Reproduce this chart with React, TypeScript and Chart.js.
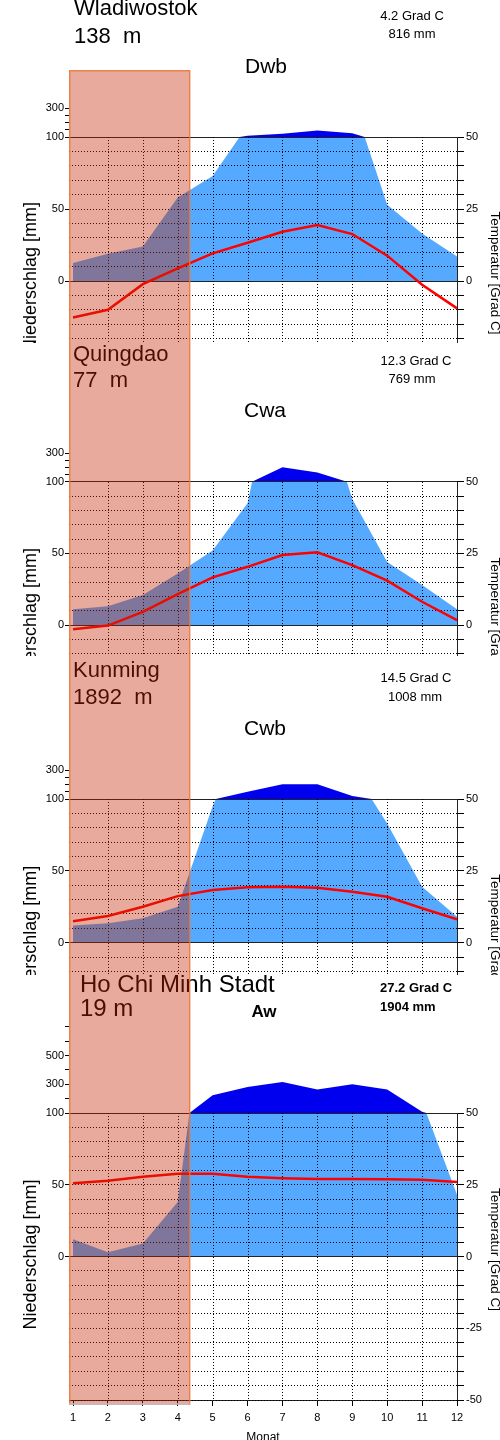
import React, { useEffect, useRef } from "react";
import { Chart, registerables } from "chart.js";

const FONT = '"Liberation Sans", Arial, Helvetica, sans-serif';

// ---------- data ----------
const MONTHS = [1, 2, 3, 4, 5, 6, 7, 8, 9, 10, 11, 12];

const WLAD_PRECIP = [12.5, 19, 24, 58, 73, 108, 123, 146, 126, 53, 33, 17];
const WLAD_TEMP = [-12.7, -10, -1.1, 4.4, 9.6, 13.3, 17.1, 19.4, 16.3, 8.8, -1.3, -9.5];

const QING_PRECIP = [11, 13, 21, 36, 52, 85, 200, 165, 88, 44, 28, 11];
const QING_TEMP = [-1.5, -0.2, 4.6, 10.8, 16.6, 20.3, 24.4, 25.4, 20.9, 15.5, 8.1, 1.7];

const KUN_PRECIP = [12, 13.5, 17, 25, 95, 151, 202, 202, 121, 83, 39, 18];
const KUN_TEMP = [7.5, 9.3, 12.5, 16.2, 18.3, 19.3, 19.5, 19.1, 17.7, 16, 12, 8.1];

const HCMC_PRECIP = [12, 3, 9, 38, 223, 281, 316, 263, 300, 263, 108, 43];
const HCMC_TEMP = [25.5, 26.4, 27.8, 28.8, 28.8, 27.8, 27.3, 27.0, 27.0, 26.9, 26.7, 26.0];

const PRECIP_BASE_TICKS = [0, 50, 100];
const PRECIP_HIGH_TICKS_SMALL = [150, 200, 250, 300];
const PRECIP_HIGH_TICKS_LARGE = [200, 300, 400, 500, 600, 700];
const PRECIP_LABELS_SMALL = [0, 50, 100, 300];
const PRECIP_LABELS_LARGE = [0, 50, 100, 300, 500];
const TEMP_TICKS = [-50, -45, -40, -35, -30, -25, -20, -15, -10, -5, 0, 5, 10, 15, 20, 25, 30, 35, 40, 45, 50];
const TEMP_LABELS = [-50, -25, 0, 25, 50];
const GRID_MONTHS = [2, 3, 4, 5, 6, 7, 8, 9, 10, 11];
const HIGHLIGHT_MONTHS = [0.885, 4.35];
const X_MIN = 0.885;
const PRECIP_BREAK = 100;
const PRECIP_COMPRESS = 10;

const toDisplay = (mm: number) => (mm <= PRECIP_BREAK ? mm : PRECIP_BREAK + (mm - PRECIP_BREAK) / PRECIP_COMPRESS);
const toMm = (v: number) => (v <= PRECIP_BREAK ? v : PRECIP_BREAK + (v - PRECIP_BREAK) * PRECIP_COMPRESS);

// ---------- layout ----------
type TextItem = { text: string; x: number; y: number; size: number; align?: CanvasTextAlign; weight?: string };
type Panel = {
  precip: number[];
  temp: number[];
  highTicks: number[];
  labeled: number[];
  areaTop: number;
  areaBottom: number;
  wrapperBottom: number;
  zeroY: number;
  hundredY: number;
  showX: boolean;
  highlightTop?: number;
  highlightBottom?: number;
  leftTitleShift: number;
  rightTitleShift: number;
  texts: TextItem[];
};

const PANELS: Panel[] = [
  {
    precip: WLAD_PRECIP, temp: WLAD_TEMP, highTicks: PRECIP_HIGH_TICKS_SMALL, labeled: PRECIP_LABELS_SMALL,
    areaTop: 0, areaBottom: 343, wrapperBottom: 343, zeroY: 281, hundredY: 137, showX: false,
    highlightTop: 146.5, leftTitleShift: -4, rightTitleShift: -8,
    texts: [
      { text: "Wladiwostok", x: 74, y: 15, size: 22 },
      { text: "138  m", x: 74, y: 43, size: 22 },
      { text: "4.2 Grad C", x: 412, y: 20, size: 13, align: "center" },
      { text: "816 mm", x: 412, y: 38, size: 13, align: "center" },
      { text: "Dwb", x: 266, y: 73, size: 21, align: "center" },
    ],
  },
  {
    precip: QING_PRECIP, temp: QING_TEMP, highTicks: PRECIP_HIGH_TICKS_SMALL, labeled: PRECIP_LABELS_SMALL,
    areaTop: 343, areaBottom: 656, wrapperBottom: 656, zeroY: 625, hundredY: 481.7, showX: false,
    leftTitleShift: -2, rightTitleShift: -6,
    texts: [
      { text: "Quingdao", x: 73, y: 361, size: 22 },
      { text: "77  m", x: 73, y: 387, size: 22 },
      { text: "12.3 Grad C", x: 416, y: 365, size: 13, align: "center" },
      { text: "769 mm", x: 412, y: 383, size: 13, align: "center" },
      { text: "Cwa", x: 265, y: 417, size: 21, align: "center" },
    ],
  },
  {
    precip: KUN_PRECIP, temp: KUN_TEMP, highTicks: PRECIP_HIGH_TICKS_SMALL, labeled: PRECIP_LABELS_SMALL,
    areaTop: 656, areaBottom: 975, wrapperBottom: 975, zeroY: 942.7, hundredY: 799, showX: false,
    leftTitleShift: -2, rightTitleShift: -7,
    texts: [
      { text: "Kunming", x: 73, y: 677, size: 22 },
      { text: "1892  m", x: 73, y: 704, size: 22 },
      { text: "14.5 Grad C", x: 416, y: 682, size: 13, align: "center" },
      { text: "1008 mm", x: 415, y: 701, size: 13, align: "center" },
      { text: "Cwb", x: 265, y: 735, size: 21, align: "center" },
    ],
  },
  {
    precip: HCMC_PRECIP, temp: HCMC_TEMP, highTicks: PRECIP_HIGH_TICKS_LARGE, labeled: PRECIP_LABELS_LARGE,
    areaTop: 975, areaBottom: 1400, wrapperBottom: 1440, zeroY: 1256.5, hundredY: 1113, showX: true,
    highlightBottom: -103.5, leftTitleShift: -2, rightTitleShift: -7,
    texts: [
      { text: "Ho Chi Minh Stadt", x: 80, y: 992, size: 24 },
      { text: "19 m", x: 80, y: 1016, size: 24 },
      { text: "27.2 Grad C", x: 380, y: 992, size: 13, weight: "bold" },
      { text: "1904 mm", x: 380, y: 1011, size: 13, weight: "bold" },
      { text: "Aw", x: 264, y: 1017, size: 17, align: "center", weight: "bold" },
    ],
  },
];

// ---------- plugins ----------
const clipBandPlugin = {
  id: "clipBand",
  beforeDatasetDraw(chart: any, args: any) {
    const ds = chart.data.datasets[args.index];
    if (!ds || !ds.clipBand) return;
    const { ctx, chartArea } = chart;
    const y100 = chart.scales.y.getPixelForValue(PRECIP_BREAK);
    ctx.save();
    ctx.beginPath();
    if (ds.clipBand === "below") {
      ctx.rect(chartArea.left, y100, chartArea.right - chartArea.left, chartArea.bottom - y100);
    } else {
      ctx.rect(chartArea.left, chartArea.top, chartArea.right - chartArea.left, y100 - chartArea.top);
    }
    ctx.clip();
  },
  afterDatasetDraw(chart: any, args: any) {
    const ds = chart.data.datasets[args.index];
    if (ds && ds.clipBand) chart.ctx.restore();
  },
};

Chart.register(clipBandPlugin as any);
Chart.register(...registerables);

function makeDecorPlugin(p: Panel) {
  const offsetY = 20 - p.areaTop;
  return {
    id: "decor",
    afterDatasetDraw(chart: any, args: any) {
      if (args.index !== 1) return;
      const area = chart.chartArea;
      chart.scales.y2.drawGrid(area);
      chart.scales.y.drawGrid(area);
      const ctx = chart.ctx;
      const xs = chart.scales.x;
      const yTop = Math.round(chart.scales.y.getPixelForValue(PRECIP_BREAK));
      const yBot = area.bottom;
      ctx.save();
      ctx.lineWidth = 1;
      ctx.strokeStyle = "#000";
      ctx.setLineDash([1, 2]);
      for (const m of GRID_MONTHS) {
        const px = Math.round(xs.getPixelForValue(m)) + 0.5;
        ctx.beginPath();
        ctx.moveTo(px, yTop);
        ctx.lineTo(px, yBot);
        ctx.stroke();
      }
      ctx.setLineDash([]);
      ctx.strokeStyle = "#222";
      const pr = Math.round(xs.getPixelForValue(12)) + 0.5;
      ctx.beginPath();
      ctx.moveTo(pr, yTop);
      ctx.lineTo(pr, yBot);
      ctx.stroke();
      ctx.restore();
    },
    afterDraw(chart: any) {
      const ctx = chart.ctx;
      const ys = chart.scales.y;
      const xs = chart.scales.x;
      ctx.save();
      ctx.fillStyle = "#000";
      ctx.textBaseline = "alphabetic";
      for (const t of p.texts) {
        ctx.font = `${t.weight || "normal"} ${t.size}px ${FONT}`;
        ctx.textAlign = t.align || "left";
        ctx.fillText(t.text, t.x, t.y + offsetY);
      }
      const y0 = ys.getPixelForValue(0);
      // left axis title
      ctx.save();
      ctx.font = `18px ${FONT}`;
      ctx.textAlign = "center";
      ctx.translate(35.5, y0 + p.leftTitleShift);
      ctx.rotate(-Math.PI / 2);
      ctx.fillText("Niederschlag [mm]", 0, 0);
      ctx.restore();
      // right axis title
      ctx.save();
      ctx.font = `13.5px ${FONT}`;
      ctx.textAlign = "center";
      ctx.translate(491, y0 + p.rightTitleShift);
      ctx.rotate(Math.PI / 2);
      ctx.fillText("Temperatur [Grad C]", 0, 0);
      ctx.restore();

      // highlight band
      const xl = xs.getPixelForValue(HIGHLIGHT_MONTHS[0]);
      const xr = xs.getPixelForValue(HIGHLIGHT_MONTHS[1]);
      const top = p.highlightTop !== undefined ? ys.getPixelForValue(p.highlightTop) : 0;
      const bottom = p.highlightBottom !== undefined ? ys.getPixelForValue(p.highlightBottom) : chart.height;
      ctx.fillStyle = "rgba(196,36,0,0.39)";
      ctx.fillRect(xl, top, xr - xl, bottom - top);
      ctx.strokeStyle = "rgba(238,120,50,0.8)";
      ctx.lineWidth = 1.5;
      ctx.beginPath();
      ctx.moveTo(xl + 0.75, top);
      ctx.lineTo(xl + 0.75, bottom);
      ctx.moveTo(xr - 0.25, top);
      ctx.lineTo(xr - 0.25, bottom);
      if (p.highlightTop !== undefined) {
        ctx.moveTo(xl, top + 0.75);
        ctx.lineTo(xr, top + 0.75);
      }
      ctx.stroke();
      if (p.highlightBottom !== undefined) {
        ctx.strokeStyle = "rgba(190,190,190,0.8)";
        ctx.lineWidth = 2;
        ctx.beginPath();
        ctx.moveTo(xl, bottom - 1);
        ctx.lineTo(xr, bottom - 1);
        ctx.stroke();
      }
      ctx.restore();
    },
  };
}

function buildConfig(p: Panel): any {
  const ppu = (p.zeroY - p.hundredY) / 100;
  const yMax = (p.zeroY - p.areaTop) / ppu;
  const yMin = (p.zeroY - p.areaBottom) / ppu;
  const leftTicks = [...PRECIP_BASE_TICKS, ...p.highTicks].map(toDisplay);
  const pts = (arr: number[]) => MONTHS.map((m, i) => ({ x: m, y: arr[i] }));

  const xScale: any = {
    type: "linear",
    min: X_MIN,
    max: 12,
    display: p.showX,
    afterBuildTicks: (s: any) => {
      s.ticks = MONTHS.map((v) => ({ value: v }));
    },
    grid: { drawOnChartArea: false, drawTicks: true, tickLength: 6, color: "#000", tickColor: "#000" },
    border: { display: true, color: "#222", width: 1 },
    ticks: {
      autoSkip: false,
      maxRotation: 0,
      padding: 5,
      color: "#000",
      font: { family: FONT, size: 11 },
      callback: (v: any) => String(v),
    },
    title: { display: true, text: "Monat", color: "#000", font: { family: FONT, size: 12 }, padding: { top: 0, bottom: -5 } },
  };
  if (p.showX) xScale.afterFit = (s: any) => { s.height = 40; };

  return {
    type: "line",
    data: {
      datasets: [
        {
          label: "Temperatur",
          data: pts(p.temp),
          yAxisID: "y2",
          borderColor: "#ff0000",
          borderWidth: 2.5,
          pointRadius: 0,
          fill: false,
          tension: 0,
        },
        {
          label: "Niederschlag > 100 mm",
          data: pts(p.precip),
          yAxisID: "yHigh",
          borderColor: "rgba(0,0,0,0)",
          borderWidth: 0,
          backgroundColor: "#0000ee",
          pointRadius: 0,
          fill: { value: PRECIP_BREAK },
          tension: 0,
          clipBand: "above",
        },
        {
          label: "Niederschlag",
          data: pts(p.precip),
          yAxisID: "y",
          borderColor: "rgba(0,0,0,0)",
          borderWidth: 0,
          backgroundColor: "#55aaff",
          pointRadius: 0,
          fill: { value: 0 },
          tension: 0,
          clipBand: "below",
        },
      ],
    },
    options: {
      responsive: false,
      animation: false,
      devicePixelRatio: 1,
      events: [],
      layout: { padding: { top: 20, bottom: 20, left: 0, right: 0 } },
      plugins: { legend: { display: false }, tooltip: { enabled: false }, title: { display: false } },
      scales: {
        x: xScale,
        y: {
          type: "linear",
          position: "left",
          min: yMin,
          max: yMax,
          afterBuildTicks: (s: any) => {
            s.ticks = leftTicks.map((v) => ({ value: v }));
          },
          afterFit: (s: any) => { s.width = 69; },
          grid: {
            drawTicks: true,
            tickLength: 4,
            tickColor: "#000",
            lineWidth: 1,
            color: (c: any) => (c.tick && (c.tick.value === 0 || c.tick.value === PRECIP_BREAK) ? "#222" : "rgba(0,0,0,0)"),
          },
          border: { display: false },
          ticks: {
            autoSkip: false,
            padding: 1,
            color: "#000",
            font: { family: FONT, size: 11 },
            callback: (v: any) => {
              const mm = Math.round(toMm(Number(v)));
              return p.labeled.includes(mm) ? String(mm) : "";
            },
          },
        },
        y2: {
          type: "linear",
          position: "right",
          min: yMin / 2,
          max: yMax / 2,
          afterBuildTicks: (s: any) => {
            s.ticks = TEMP_TICKS.filter((v) => v >= s.min - 1e-6 && v <= s.max + 1e-6).map((v) => ({ value: v }));
          },
          afterFit: (s: any) => { s.width = 43; },
          grid: { drawTicks: true, tickLength: 7, tickColor: "#000", color: "#000", lineWidth: 1 },
          border: { display: false, dash: [1, 2] },
          ticks: {
            autoSkip: false,
            padding: 2,
            color: "#000",
            font: { family: FONT, size: 11 },
            callback: (v: any) => (TEMP_LABELS.includes(Number(v)) ? String(v) : ""),
          },
        },
        yHigh: {
          type: "linear",
          display: false,
          min: PRECIP_BREAK + (yMin - PRECIP_BREAK) * PRECIP_COMPRESS,
          max: PRECIP_BREAK + (yMax - PRECIP_BREAK) * PRECIP_COMPRESS,
        },
      },
    },
    plugins: [makeDecorPlugin(p)],
  };
}

function PanelChart({ panel }: { panel: Panel }) {
  const ref = useRef<HTMLCanvasElement | null>(null);
  const visibleH = panel.wrapperBottom - panel.areaTop;
  useEffect(() => {
    if (!ref.current) return;
    const chart = new Chart(ref.current, buildConfig(panel));
    return () => chart.destroy();
  }, [panel]);
  return (
    <div style={{ position: "absolute", left: 0, top: panel.areaTop, width: 500, height: visibleH, overflow: "hidden" }}>
      <canvas
        ref={ref}
        width={500}
        height={visibleH + 40}
        style={{ position: "absolute", left: 0, top: -20, width: 500, height: visibleH + 40, display: "block" }}
      />
    </div>
  );
}

export default function App() {
  return (
    <div style={{ position: "absolute", left: 0, top: 0, width: 500, height: 1440, background: "#fff", overflow: "hidden" }}>
      {PANELS.map((p, i) => (
        <PanelChart key={i} panel={p} />
      ))}
    </div>
  );
}
